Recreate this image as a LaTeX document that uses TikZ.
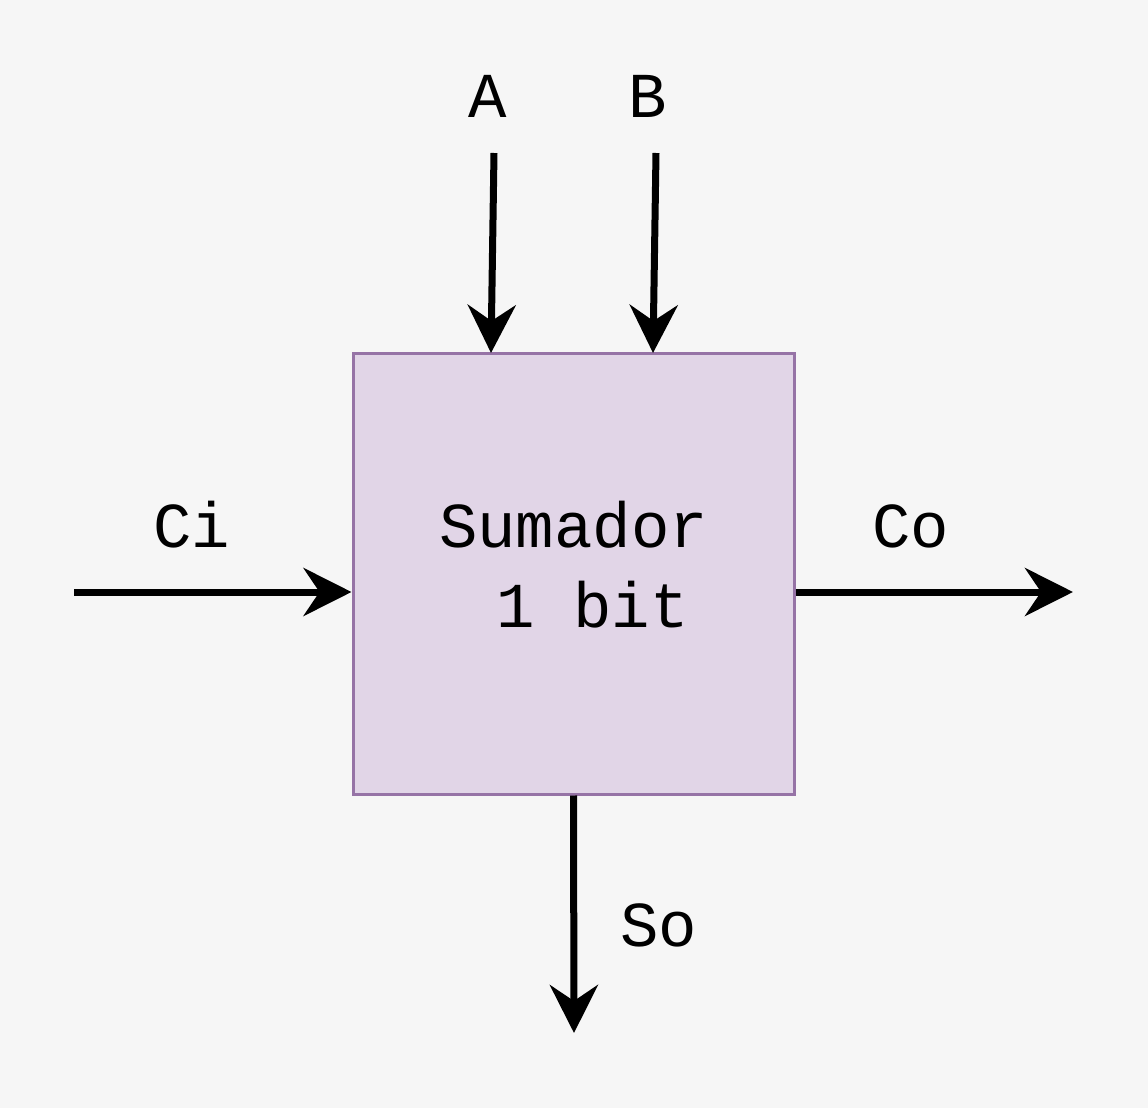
\documentclass[tikz,border=0pt]{standalone}
\usepackage{fontspec}
\setmonofont{Liberation Mono}
\usetikzlibrary{arrows.meta}
\definecolor{bgGray}{HTML}{F6F6F6}
\definecolor{boxFill}{HTML}{E1D5E7}
\definecolor{boxLine}{HTML}{9673A6}

\begin{document}
\begin{tikzpicture}[x=0.5pt,y=-0.5pt,
    signal/.style={line width=3.5pt,-{Stealth[length=24pt,width=24pt,inset=8pt]}},
    lbl/.style={font=\ttfamily\fontsize{32}{40}\selectfont,inner sep=0pt}]
    \fill[bgGray] (0,0) rectangle (1148,1108);
    \useasboundingbox (0,0) rectangle (1148,1108);

    % the adder block
    \node[draw=boxLine,fill=boxFill,line width=1.5pt,inner sep=0pt,
          minimum width=220.5pt,minimum height=220.5pt]
          (adder) at (573.5,573.5) {};
    \node[lbl,align=center] (adderText) at ([yshift=4.5pt]adder.center)
          {Sumador\\\phantom{0}1 bit};

    % ends of the signals
    \coordinate (aIn) at (494,153);
    \coordinate (aEnd) at (491,353);
    \coordinate (bIn) at (656,153);
    \coordinate (bEnd) at (653,353);
    \coordinate (ciIn) at (74,592);
    \coordinate (coOut) at (1073,592);
    \coordinate (soOut) at (574,1033);

    \draw[signal] (aIn) -- (aEnd);
    \draw[signal] (bIn) -- (bEnd);
    \draw[signal] (ciIn) -- (adder.west |- ciIn);
    \draw[signal] (adder.east |- coOut) -- (coOut);
    \draw[signal] (adder.south) -- (soOut);

    % signal names
    \node[lbl,anchor=base] (labA) at (488,117) {A};
    \node[lbl,anchor=base] (labB) at (648,117) {B};
    \node[lbl,anchor=base] (labCi) at (192,547) {Ci};
    \node[lbl,anchor=base] (labCo) at (911,547) {Co};
    \node[lbl,anchor=base] (labSo) at (659,946) {So};
\end{tikzpicture}
\end{document}
